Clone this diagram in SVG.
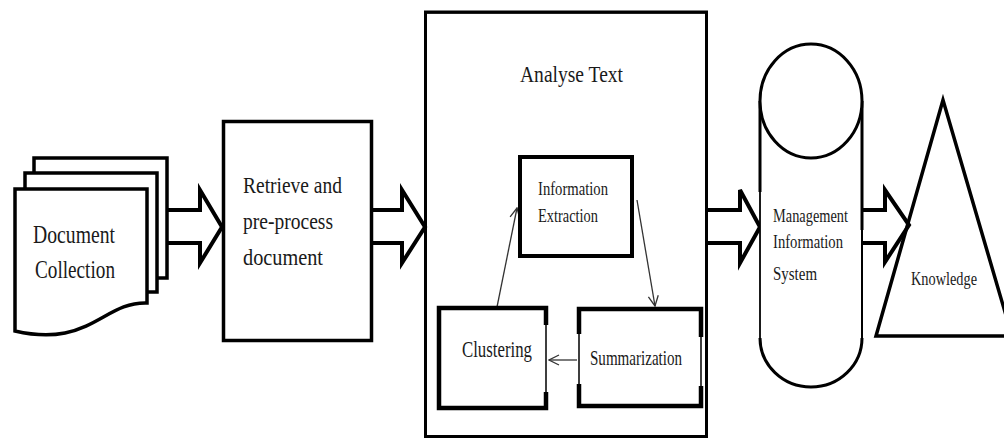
<svg xmlns="http://www.w3.org/2000/svg" width="1004" height="439" viewBox="0 0 1004 439">
<style>
.s{fill:none;stroke:#000;stroke-linejoin:miter}
.w{fill:#fff;stroke:#000}
.t{font-family:"Liberation Serif","Times New Roman",serif;fill:#1a1a1a}
.thin{fill:none;stroke:#333;stroke-width:1.3}
</style>
<defs>
<marker id="v" viewBox="0 0 12 12" refX="11" refY="6" markerWidth="12" markerHeight="12" markerUnits="userSpaceOnUse" orient="auto">
<path d="M1,1 L11,6 L1,11" fill="none" stroke="#333" stroke-width="1.3"/>
</marker>
</defs>
<rect width="1004" height="439" fill="#fff"/>

<g id="connectors">
<path class="s" stroke-width="4" d="M167,210 H200 V190 L222,227 L200,263 V243 H167"/>
<path class="s" stroke-width="4" d="M373,210 H402 V190 L425,227 L402,263 V243 H373"/>
<path class="s" stroke-width="4" d="M708,210 H740 V190 L760,227 L740,263 V243 H708"/>
<path class="s" stroke-width="4" d="M863,210 H885 V190 L909,225 L885,262 V243 H863"/>
<line class="thin" x1="497" y1="307" x2="517" y2="208" marker-end="url(#v)"/>
<line class="thin" x1="637" y1="200" x2="655" y2="306" marker-end="url(#v)"/>
<line class="thin" x1="577" y1="360" x2="549" y2="360" marker-end="url(#v)"/>
</g>

<g id="document-collection">
<path class="s" stroke-width="3.5" d="M34,173 V158 H167 V278 H157"/>
<path class="s" stroke-width="3.5" d="M25,188 V173 H157 V292 H147"/>
<path class="w" stroke-width="3.5" d="M15,189 H147 V303 C115,302 100,326 65,333 C45,337 28,334 15,331 Z"/>
<text class="t" x="33" y="243" font-size="26" textLength="82" lengthAdjust="spacingAndGlyphs">Document</text>
<text class="t" x="35" y="278" font-size="26" textLength="80" lengthAdjust="spacingAndGlyphs">Collection</text>
</g>

<g id="retrieve">
<rect class="w" stroke-width="3.5" x="223.5" y="121.5" width="148" height="219"/>
<text class="t" x="243" y="193" font-size="24" textLength="99" lengthAdjust="spacingAndGlyphs">Retrieve and</text>
<text class="t" x="243" y="229" font-size="24" textLength="90" lengthAdjust="spacingAndGlyphs">pre-process</text>
<text class="t" x="243" y="265" font-size="24" textLength="80" lengthAdjust="spacingAndGlyphs">document</text>
</g>

<g id="analyse-text">
<rect class="s" stroke-width="3" x="425.5" y="12" width="281" height="424.5"/>
<line class="s" stroke-width="1.5" x1="424" y1="13" x2="708" y2="13"/>
<text class="t" x="520" y="82" font-size="24" textLength="103" lengthAdjust="spacingAndGlyphs">Analyse Text</text>
</g>

<g id="information-extraction">
<rect class="w" stroke-width="4" x="520" y="157" width="112" height="99"/>
<line class="s" stroke-width="2" x1="518" y1="256.5" x2="634" y2="256.5"/>
<text class="t" x="538" y="195" font-size="19" textLength="70" lengthAdjust="spacingAndGlyphs">Information</text>
<text class="t" x="538" y="222" font-size="19" textLength="60" lengthAdjust="spacingAndGlyphs">Extraction</text>
</g>

<g id="clustering">
<path class="w" stroke-width="1.5" d="M439,308 H546 V408 H439 Z"/>
<path class="s" stroke-width="4.5" d="M546,325 V308 H439 V408 H546 V392"/>
<text class="t" x="462" y="357" font-size="23" textLength="70" lengthAdjust="spacingAndGlyphs">Clustering</text>
</g>

<g id="summarization">
<path class="w" stroke-width="1.5" d="M579,309 H701 V406 H579 Z"/>
<path class="s" stroke-width="4.5" d="M579,334 V309 H701 V337"/>
<path class="s" stroke-width="4.5" d="M579,384 V406 H701 V386"/>
<text class="t" x="590" y="365" font-size="22" textLength="92" lengthAdjust="spacingAndGlyphs">Summarization</text>
</g>

<g id="mis">
<path class="w" stroke="none" d="M760,101 V338 A51,49 0 0 0 862,338 V101 Z"/>
<line class="s" stroke-width="3" x1="760" y1="101" x2="760" y2="192"/>
<line class="s" stroke-width="1.6" x1="760" y1="190" x2="760" y2="339"/>
<line class="s" stroke-width="3" x1="862" y1="101" x2="862" y2="230"/>
<line class="s" stroke-width="2" x1="862" y1="228" x2="862" y2="339"/>
<ellipse class="w" stroke-width="3" cx="811" cy="101" rx="51" ry="57"/>
<path class="s" stroke-width="3" d="M760,338 A51,49 0 0 0 862,338"/>
<text class="t" x="773" y="222" font-size="19" textLength="75" lengthAdjust="spacingAndGlyphs">Management</text>
<text class="t" x="773" y="248" font-size="19" textLength="70" lengthAdjust="spacingAndGlyphs">Information</text>
<text class="t" x="773" y="280" font-size="19" textLength="44" lengthAdjust="spacingAndGlyphs">System</text>
</g>

<g id="knowledge">
<path class="s" stroke-width="3.5" d="M943,100 L876,336 H1012 Z"/>
<text class="t" x="911" y="285" font-size="18" textLength="66" lengthAdjust="spacingAndGlyphs">Knowledge</text>
</g>
</svg>
